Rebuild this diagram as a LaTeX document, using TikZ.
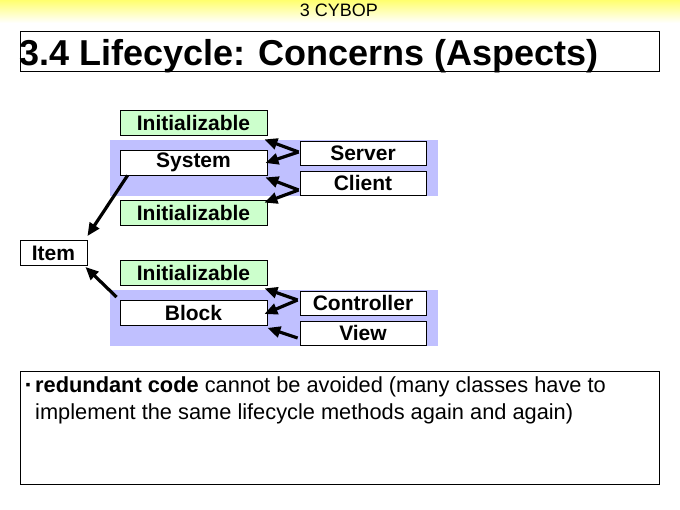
\documentclass[tikz,border=0pt]{standalone}
\usepackage{fontspec}
\setmainfont{Liberation Sans}
\usetikzlibrary{arrows.meta,calc}
\definecolor{initgreen}{RGB}{204,255,204}
\definecolor{bandblue}{RGB}{192,192,255}
\definecolor{hdryellow}{RGB}{255,255,110}
\begin{document}
\begin{tikzpicture}[x=1pt,y=-1pt,
  box/.style={draw, line width=0.8pt, inner sep=0pt, minimum width=147pt, minimum height=25pt,
    font=\fontsize{21}{21}\selectfont\bfseries},
  ibox/.style={box, fill=initgreen},
  wbox/.style={box, fill=white},
  sbox/.style={box, fill=white, minimum width=126pt, minimum height=24pt},
  arr/.style={line width=3.2pt, -{Triangle[length=13pt,width=11pt]}},
  band/.style={fill=bandblue, draw=none},
  frame/.style={draw, line width=0.8pt, fill=white},
  bodytext/.style={inner sep=0pt, anchor=base west, font=\fontsize{21.8}{21.8}\selectfont}]
\useasboundingbox (0,0) rectangle (680,510);
\fill[white] (0,0) rectangle (680,510);
% header
\shade[top color=hdryellow, bottom color=white] (0,0) rectangle (680,23);
\node[inner sep=0pt, anchor=base, font=\fontsize{18}{18}\selectfont] (hdr) at (339,17) {3 CYBOP};
% title
\draw[frame] (20,31) rectangle (659,71);
\node[inner sep=0pt, anchor=base west, font=\fontsize{36}{36}\selectfont\bfseries] (title) at (19,66) {3.4 Lifecycle: Concerns (Aspects)};
% bands
\fill[band] (110,140) rectangle (438,196);
\fill[band] (110,290) rectangle (438,346);
% nodes
\node[ibox] (init1) at (193.5,122.5) {Initializable};
\node[wbox] (system) at (193.5,162.5) {System};
\node[ibox] (init2) at (193.5,212.5) {Initializable};
\node[sbox] (server) at (363,153) {Server};
\node[sbox] (client) at (363,183) {Client};
\node[box, fill=white, minimum width=67pt, minimum height=25pt] (item) at (53.5,253) {Item\hspace{9pt}};
\node[ibox] (init3) at (193.5,272.5) {Initializable};
\node[wbox] (block) at (193.5,313) {Block};
\node[sbox] (controller) at (363,303) {Controller};
\node[sbox] (view) at (363,333) {View};
% arrows
\draw[arr] ($(server.west)+(-1,-1)$) -- ($(init1.south east)+(-3,4)$);
\draw[arr] ($(server.west)+(-1,-1)$) -- ($(system.east)+(-2,0.5)$);
\draw[arr] ($(client.west)+(-1,7)$) -- ($(system.south east)+(-2,2)$);
\draw[arr] ($(client.west)+(-1,7)$) -- ($(init2.north east)+(-3,3)$);
\draw[arr] ($(controller.west)+(-2,-3)$) -- ($(init3.south east)+(-3,3)$);
\draw[arr] ($(controller.west)+(-2,-3)$) -- ($(block.east)+(-3,1)$);
\draw[arr] ($(view.west)+(-2,5)$) -- ($(block.south east)+(0,2)$);
\draw[arr] ($(system.south west)+(8,0)$) -- ($(item.north east)+(0,-4)$);
\draw[arr] ($(block.north west)+(-3,-3)$) -- ($(item.south east)+(-2,1)$);
% text box
\draw[frame] (20,371) rectangle (659,484);
\node[inner sep=0pt, anchor=base west, font=\fontsize{14}{14}\selectfont] (bullet) at (25.5,390) {▪};
\node[bodytext] (line1) at (35,392) {\textbf{redundant code} cannot be avoided (many classes have to};
\node[bodytext] (line2) at (35,420) {implement the same lifecycle methods again and again)};
\end{tikzpicture}
\end{document}
